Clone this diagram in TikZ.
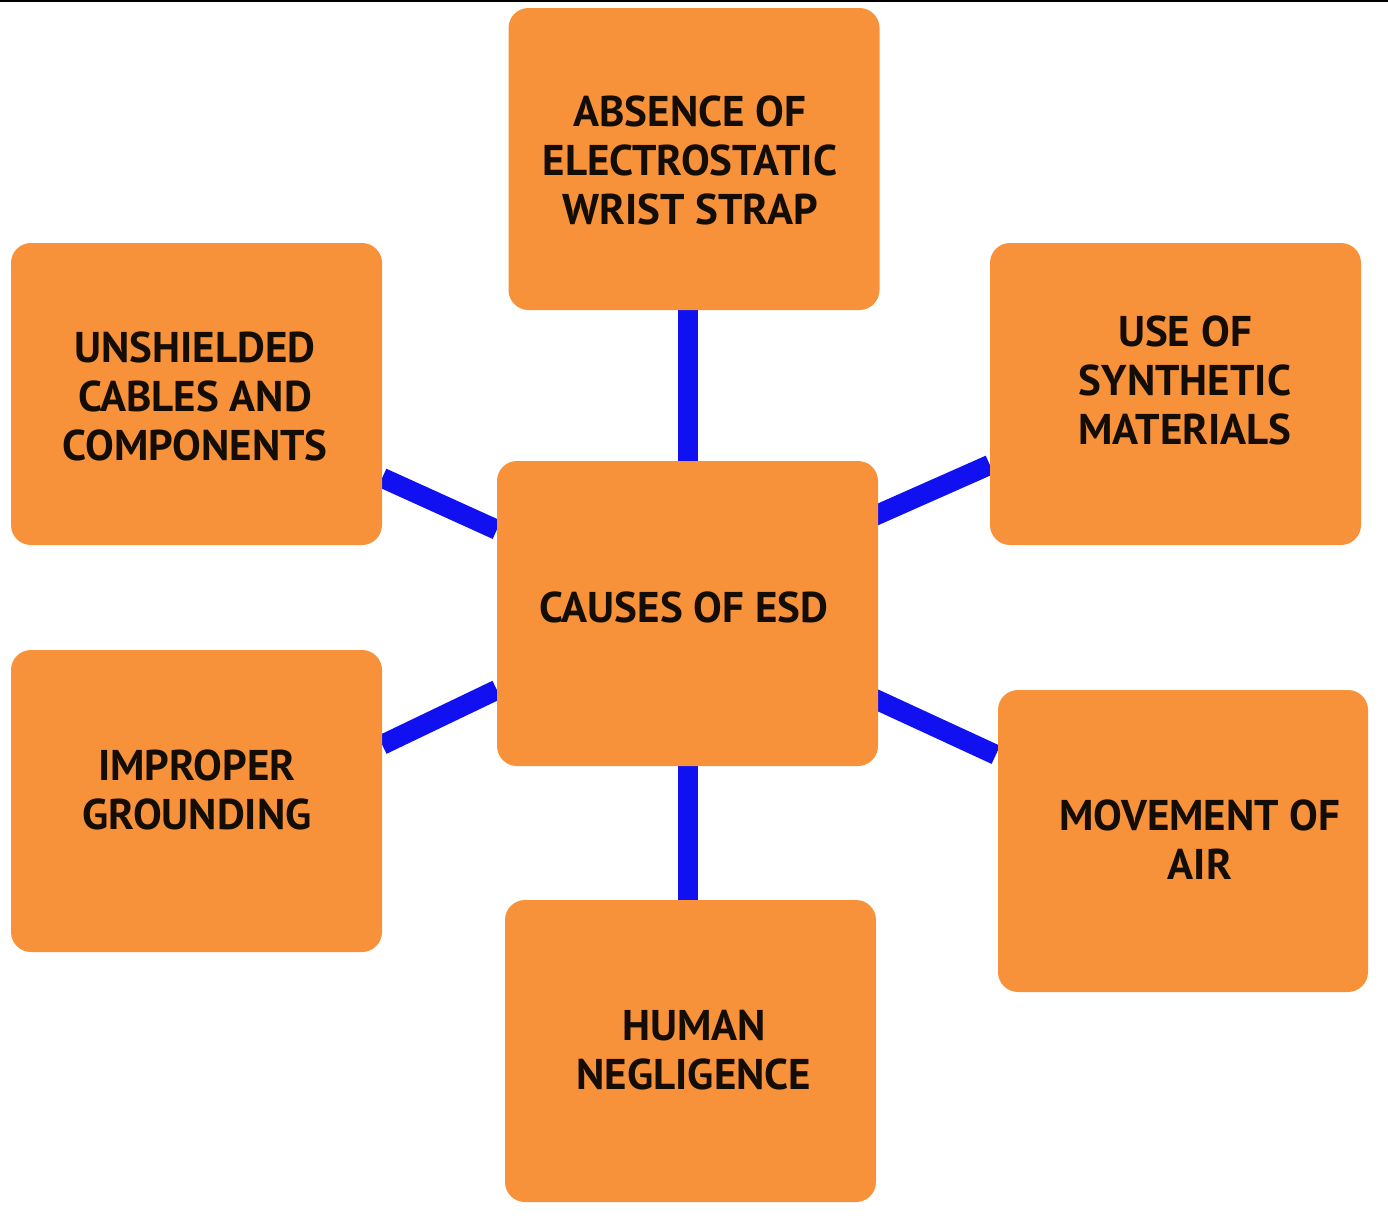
\documentclass[tikz,border=0pt]{standalone}
\usepackage{fontspec}
\setmainfont{PT Sans}
\usetikzlibrary{calc,backgrounds}
\definecolor{boxorange}{RGB}{247,146,58}
\definecolor{linkblue}{RGB}{16,16,240}
\tikzset{
  cbox/.style={fill=boxorange, rounded corners=20pt, inner sep=0pt, minimum width=371pt, minimum height=302pt},
  ctext/.style={align=center, font=\fontsize{43}{49}\selectfont\bfseries, text=black!90!brown, inner sep=0pt},
  link/.style={draw=linkblue, line width=20pt}
}
\begin{document}
\begin{tikzpicture}[x=1pt,y=-1pt]
\useasboundingbox (0,0) rectangle (1388,1227);
% boxes
\node[cbox] (top) at (694,159) {};
\node[cbox] (ul) at (196.5,394) {};
\node[cbox] (ur) at (1175.5,394) {};
\node[cbox, minimum width=381pt, minimum height=305pt] (c) at (687.5,613.5) {};
\node[cbox] (ll) at (196.5,801) {};
\node[cbox, minimum width=370pt] (lr) at (1183,841) {};
\node[cbox] (bot) at (690.5,1051) {};
% connectors
\begin{scope}[on background layer]
\fill[white] (0,0) rectangle (1388,1227);
\draw[line width=2pt] (0,1) -- (1388,1);
\draw[link] (c.north) -- (c.north |- top.south);
\draw[link] (c.south) -- (c.south |- bot.north);
\draw[link] ($(ul.north east)+(0,235)$) -- ($(c.north west)+(0,69)$);
\draw[link] ($(ur.north west)+(0,222)$) -- ($(c.north east)+(-8,57)$);
\draw[link] ($(ll.north east)+(0,95)$) -- ($(c.north west)+(0,229)$);
\draw[link] ($(lr.north west)+(-2,65)$) -- ($(c.north east)+(-8,236)$);
\end{scope}
% texts
\node[ctext] (topT) at (690,160) {ABSENCE OF\\ELECTROSTATIC\\WRIST STRAP};
\node[ctext] (ulT) at (195,396) {UNSHIELDED\\CABLES AND\\COMPONENTS};
\node[ctext] (urT) at (1185,380) {USE OF\\SYNTHETIC\\MATERIALS};
\node[ctext] (cT) at (684,607) {CAUSES OF ESD};
\node[ctext] (llT) at (197,790) {IMPROPER\\GROUNDING};
\node[ctext] (lrT) at (1200,840) {MOVEMENT OF\\AIR};
\node[ctext] (botT) at (694,1050) {HUMAN\\NEGLIGENCE};
\end{tikzpicture}
\end{document}
